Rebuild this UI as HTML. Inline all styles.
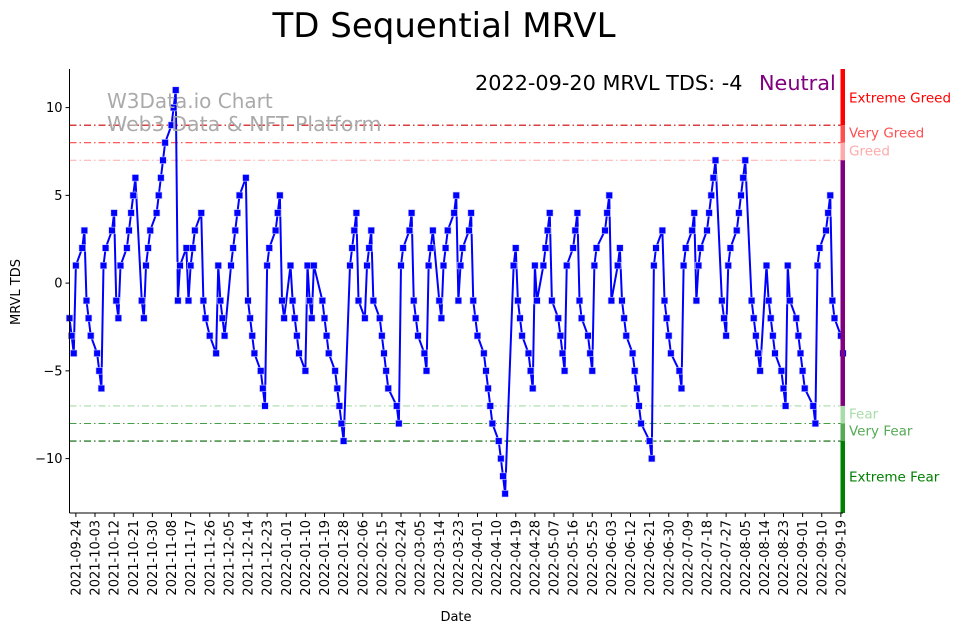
<!DOCTYPE html>
<html><head><meta charset="utf-8"><style>
html,body{margin:0;padding:0;background:#fff;}
svg{display:block;font-family:"DejaVu Sans","Liberation Sans",sans-serif;}
</style></head><body>
<svg id="chart" width="962" height="633" viewBox="0 0 962 633" xmlns="http://www.w3.org/2000/svg">
<text x="444" y="37" font-size="34" text-anchor="middle" fill="#000">TD Sequential MRVL</text>
<g id="grid"></g>
<g id="plot"></g>
<g id="axes"></g>
<text x="107" y="108" font-size="20" fill="#aaaaaa">W3Data.io Chart</text>
<text x="107" y="131" font-size="20.5" fill="#aaaaaa">Web3 Data &amp; NFT Platform</text>
<text x="475" y="90" font-size="20.8" fill="#000">2022-09-20 MRVL TDS: -4</text>
<text x="759" y="90" font-size="20.8" fill="#800080">Neutral</text>
<text x="20" y="292" font-size="13" text-anchor="middle" transform="rotate(-90 20 292)">MRVL TDS</text>
<text x="456" y="621" font-size="13" text-anchor="middle">Date</text>
</svg>
<script>
const values = [
-2,-3,-4,1,2,3,-1,-2,-3,-4,-5,-6,1,2,3,4,-1,-2,1,2,3,4,5,6,-1,-2,1,2,3,4,5,6,7,8,9,10,11,-1,1,2,-1,1,2,3,4,-1,-2,-3,
-4,1,-1,-2,-3,1,2,3,4,5,6,-1,-2,-3,-4,-5,-6,-7,1,2,3,4,5,-1,-2,1,-1,-2,-3,-4,-5,1,-1,-2,1,-1,-2,-3,-4,-5,-6,-7,
-8,-9,1,2,3,4,-1,-2,1,2,3,-1,-2,-3,-4,-5,-6,-7,-8,1,2,3,4,-1,-2,-3,-4,-5,1,2,3,-1,-2,1,2,3,4,5,-1,1,2,3,4,
-1,-2,-3,-4,-5,-6,-7,-8,-9,-10,-11,-12,1,2,-1,-2,-3,-4,-5,-6,1,-1,1,2,3,4,-1,-2,-3,-4,-5,1,2,3,4,-1,-2,-3,-4,-5,
1,2,3,4,5,-1,1,2,-1,-2,-3,-4,-5,-6,-7,-8,-9,-10,1,2,3,-1,-2,-3,-4,-5,-6,1,2,3,4,-1,1,2,3,4,5,6,7,
-1,-2,-3,1,2,3,4,5,6,7,-1,-2,-3,-4,-5,1,-1,-2,-3,-4,-5,-6,-7,1,-1,-2,-3,-4,-5,-6,-7,-8,1,2,3,4,5,-1,-2,-3,-4
];
const holidays = ["2021-11-25","2022-01-17","2022-02-21","2022-04-15","2022-05-30","2022-06-20","2022-07-04","2022-09-05"];
const startDate = "2021-09-21";
const endDate = "2022-09-20";
const yTicks = [10,5,0,-5,-10];
const levels = [9,8,7,-7,-8,-9];
const levelNames = ["Extreme Greed","Very Greed","Greed","Fear","Very Fear","Extreme Fear"];

const NS="http://www.w3.org/2000/svg";
const DAY=86400000;
const t0=Date.parse(startDate+"T00:00:00Z"), t1=Date.parse(endDate+"T00:00:00Z");
const L=69.5,R=843,T=69,B=513;
const yMin=-13.1,yMax=12.2;
function xs(t){return L+(t-t0)/(t1-t0)*(R-L);}
function ys(v){return B-(v-yMin)/(yMax-yMin)*(B-T);}
function mk(tag,attrs,parent){const e=document.createElementNS(NS,tag);for(const k in attrs)e.setAttribute(k,attrs[k]);parent.appendChild(e);return e;}
function iso(t){return new Date(t).toISOString().slice(0,10);}

const dates=[];
for(let t=t0;t<=t1;t+=DAY){const d=new Date(t).getUTCDay();if(d===0||d===6)continue;if(holidays.includes(iso(t)))continue;dates.push(t);}
const n=Math.min(dates.length,values.length);
const vals=values.slice(values.length-n);
const dts=dates.slice(dates.length-n);

const grid=document.getElementById('grid'),plot=document.getElementById('plot'),axes=document.getElementById('axes');
const levelColors=["#cc0000","#ff4444","#ffaaaa","#a8dca8","#44a044","#006400"];
levels.forEach((lv,i)=>{
  const ln=mk('line',{x1:L,x2:R,y1:ys(lv),y2:ys(lv),stroke:levelColors[i],'stroke-width':1.1,'stroke-dasharray':'7,3,1.5,3'},grid);
  
  
});
const bands=[[yMax,9,"#ff0000"],[9,8,"#ff5050"],[8,7,"#ffaaaa"],[7,-7,"#800080"],[-7,-8,"#a8dca8"],[-8,-9,"#55aa55"],[-9,yMin,"#008000"]];
bands.forEach((b,i)=>{
  const r=mk('rect',{x:840.5,y:ys(b[0]),width:4.5,height:ys(b[1])-ys(b[0]),fill:b[2]},axes);
  
  
});
const labelY=[98,133,151,414,431,477];
const labelColors=["#ff0000","#ff5050","#ffaaaa","#a8dca8","#55aa55","#008000"];
levelNames.forEach((nm,i)=>{
  const tx=mk('text',{x:849,y:labelY[i]+4.5,'font-size':13.5,fill:labelColors[i]},axes);
  tx.textContent=nm;
  
  
});
let d='';
dts.forEach((t,i)=>{d+=(i?'L':'M')+xs(t).toFixed(2)+','+ys(vals[i]).toFixed(2);});
const path=mk('path',{d:d,fill:'none',stroke:'#0000ff','stroke-width':2,'stroke-linejoin':'round'},plot);


dts.forEach((t,i)=>{
  const r=mk('rect',{x:xs(t)-3.3,y:ys(vals[i])-3.3,width:6.6,height:6.6,fill:'#0000ff',stroke:'#ccccff','stroke-width':0.6},plot);
  
  
});
const sp1=mk('line',{x1:L,x2:L,y1:T,y2:B,stroke:'#000','stroke-width':1},axes);


const sp2=mk('line',{x1:L,x2:R,y1:B,y2:B,stroke:'#000','stroke-width':1},axes);


yTicks.forEach(v=>{
  mk('line',{x1:L-4,x2:L,y1:ys(v),y2:ys(v),stroke:'#000'},axes);
  const tx=mk('text',{x:L-7,y:ys(v)+4.5,'font-size':13,'text-anchor':'end'},axes);
  tx.textContent=(v<0?'\u2212'+(-v):String(v));
  
  
});
const tickStart=Date.parse("2021-09-24T00:00:00Z");
for(let t=tickStart;t<=t1;t+=9*DAY){
  const x=xs(t);
  mk('line',{x1:x,x2:x,y1:B,y2:B+4,stroke:'#000'},axes);
  const tx=mk('text',{x:x+4.5,y:B+7,'font-size':13,'text-anchor':'end',transform:'rotate(-90 '+(x+4.5)+' '+(B+7)+')'},axes);
  tx.textContent=iso(t);
  
  
}
</script>
</body></html>
